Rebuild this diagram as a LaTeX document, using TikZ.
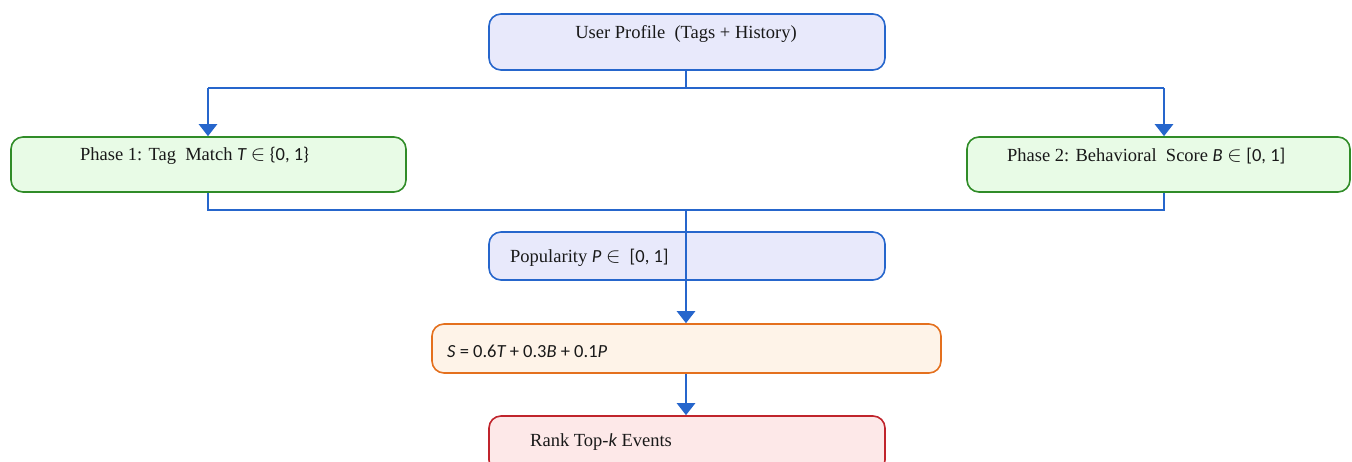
\documentclass[tikz,border=0pt]{standalone}
\usepackage{fontspec}
\setmainfont{Liberation Serif}
\newfontfamily\calfont{Carlito}
\usetikzlibrary{arrows.meta}
\definecolor{lnblue}{RGB}{38,102,204}
\definecolor{lavfill}{RGB}{232,233,251}
\definecolor{grnline}{RGB}{48,140,40}
\definecolor{grnfill}{RGB}{232,251,230}
\definecolor{orgline}{RGB}{228,112,30}
\definecolor{orgfill}{RGB}{254,243,232}
\definecolor{redline}{RGB}{192,36,44}
\definecolor{redfill}{RGB}{253,232,232}
\newcommand{\elemof}{\scalebox{1.25}{$\in$}}
\tikzset{
  box/.style={draw, line width=1.6pt, rounded corners=12pt, inner sep=0pt},
  bluebox/.style={box, draw=lnblue, fill=lavfill},
  greenbox/.style={box, draw=grnline, fill=grnfill},
  orangebox/.style={box, draw=orgline, fill=orgfill},
  redbox/.style={box, draw=redline, fill=redfill},
  lbl/.style={font=\fontsize{18.5}{22}\selectfont, inner sep=0pt, text=black!90},
  conn/.style={draw=lnblue, line width=2.4pt},
  arr/.style={conn, -{Triangle[width=18pt,length=12pt]}}
}
\begin{document}
\begin{tikzpicture}[x=1pt,y=-1pt]
\useasboundingbox (0,0) rectangle (1352,461);
% boxes
\node[bluebox, minimum width=396pt, minimum height=56pt] (up) at (687,42) {};
\node[greenbox, minimum width=395pt, minimum height=55pt] (p1) at (208.5,164.5) {};
\node[greenbox, minimum width=383pt, minimum height=55pt] (p2) at (1158.5,164.5) {};
\node[bluebox, minimum width=396pt, minimum height=48pt] (pop) at (687,256) {};
\node[orangebox, minimum width=509pt, minimum height=49pt] (sc) at (686.5,348.5) {};
\node[redbox, minimum width=396pt, minimum height=56pt] (rk) at (687,444) {};
% texts
\node[lbl] (upT) at (686,34) {User Profile\ \ (Tags + History)};
\node[lbl, anchor=west] (p1T) at (80,156) {Phase 1: Tag\ \ Match {\calfont\itshape T}\ \elemof\ {\calfont\{0, 1\}}};
\node[lbl, anchor=west] (p2T) at (1007,156) {Phase 2: Behavioral\ \ Score {\calfont\itshape B} \elemof\ {\calfont[0, 1]}};
\node[lbl, anchor=west] (popT) at (510,258) {Popularity {\calfont\itshape P}\ \elemof\ \ {\calfont[0, 1]}};
\node[lbl, anchor=west] (scT) at (447,351) {\calfont{\itshape S} = 0.6{\itshape T} + 0.3{\itshape B} + 0.1{\itshape P}};
\node[lbl, anchor=west] (rkT) at (530,442) {Rank Top-{\calfont\itshape k} Events};
% junctions
\coordinate (j1) at (686,88);
\coordinate (j2) at (686,210);
\coordinate (a1) at (208,88);
\coordinate (a2) at (1164,88);
\coordinate (b1) at (208,210);
\coordinate (b2) at (1164,210);
% connectors
\draw[conn] (up.south -| j1) -- (j1);
\draw[conn] (a1) -- (a2);
\draw[arr] (a1) -- (p1.north -| a1);
\draw[arr] (a2) -- (p2.north -| a2);
\draw[conn] (p1.south -| b1) -- (b1) -- (b2) -- (p2.south -| b2);
\draw[arr] (j2) -- (sc.north -| j2);
\draw[arr] (sc.south -| j2) -- (rk.north -| j2);
\end{tikzpicture}
\end{document}
